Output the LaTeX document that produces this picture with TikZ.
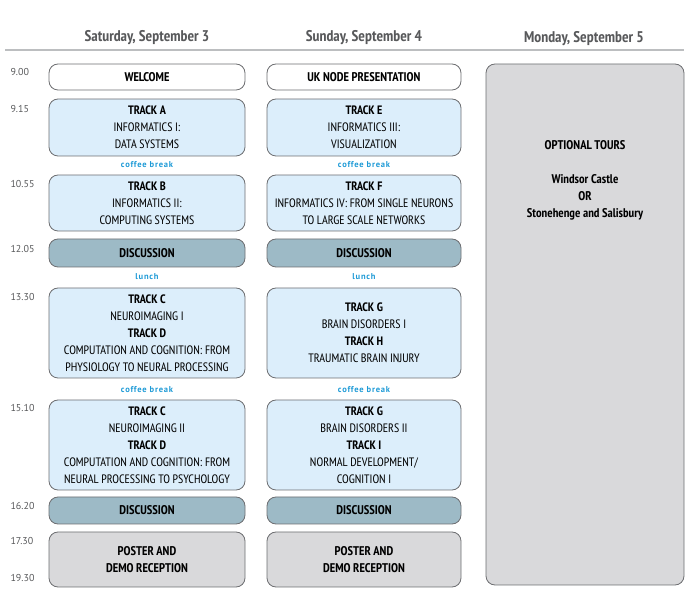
\documentclass[tikz,border=0pt]{standalone}
\usepackage{fontspec}
\setmainfont{PT Sans Narrow}
\newfontfamily\hourfont{PT Sans}
\newfontfamily\pausefont[LetterSpace=9]{PT Sans}
\usetikzlibrary{positioning}

\definecolor{frame}{HTML}{6D6E71}
\definecolor{sessionblue}{HTML}{DCEEFB}
\definecolor{discteal}{HTML}{9DBAC6}
\definecolor{tourgrey}{HTML}{D9D9DB}
\definecolor{breakblue}{HTML}{1E9AD6}
\definecolor{hourgrey}{HTML}{58595B}
\definecolor{rulegrey}{HTML}{BCBEC0}

\begin{document}
\begin{tikzpicture}[x=1pt, y=-1pt,
slot/.style={rectangle, rounded corners=9pt, draw=frame, line width=0.8pt, align=center,
  inner sep=0pt, font=\fontsize{12.2}{17}\selectfont},
slot-welcome/.style={slot, fill=white, font=\fontsize{12.6}{17}\selectfont\bfseries},
slot-track/.style={slot, fill=sessionblue},
slot-disc/.style={slot, fill=discteal, font=\fontsize{12.6}{17}\selectfont\bfseries},
slot-poster/.style={slot, fill=tourgrey, font=\fontsize{12.6}{17}\selectfont\bfseries},
pause/.style={font=\pausefont\fontsize{8.5}{10}\selectfont\bfseries, text=breakblue},
hour/.style={anchor=west, font=\hourfont\fontsize{10}{12}\selectfont, text=hourgrey},
day/.style={font=\fontsize{15.5}{17}\selectfont\bfseries, text=hourgrey}
]
\useasboundingbox (0,0) rectangle (689,593);

% day headers
\node[day] (sat) at (147,38) {Saturday, September 3};
\node[day] (sun) at (364,38) {Sunday, September 4};
\node[day] (mon) at (584,39) {Monday, September 5};
\coordinate (rule-l) at (5,50);
\coordinate (rule-r) at (684,50);
\draw[rulegrey, line width=1.2pt] (rule-l) -- (rule-r);

% hours
\node[hour] (h900) at (7,72) {9.00};
\node[hour] (h915) at (7,109) {9.15};
\node[hour] (h1055) at (7,184) {10.55};
\node[hour] (h1205) at (7,249) {12.05};
\node[hour] (h1330) at (7,297) {13.30};
\node[hour] (h1510) at (7,408) {15.10};
\node[hour] (h1620) at (7,506) {16.20};
\node[hour] (h1730) at (7,541) {17.30};
\node[hour] (h1930) at (7,578) {19.30};

% Saturday
\node[slot-welcome, minimum width=196pt, minimum height=26pt] (welcome) at (147,77) {WELCOME};
\node[slot-track, minimum width=196pt, minimum height=57pt] (track-a) at (147,127.5)
  {\textbf{TRACK A}\\INFORMATICS I:\\DATA SYSTEMS};
\node[pause] (sat-coffee1) at (147,165) {coffee break};
\node[slot-track, minimum width=196pt, minimum height=56pt] (track-b) at (147,203)
  {\textbf{TRACK B}\\INFORMATICS II:\\COMPUTING SYSTEMS};
\node[slot-disc, minimum width=196pt, minimum height=28pt] (sat-disc1) at (147,253) {DISCUSSION};
\node[pause] (sat-lunch) at (147,277) {lunch};
\node[slot-track, minimum width=196pt, minimum height=90pt] (track-cd1) at (147,333)
  {\textbf{TRACK C}\\NEUROIMAGING I\\\textbf{TRACK D}\\COMPUTATION AND COGNITION: FROM\\PHYSIOLOGY TO NEURAL PROCESSING};
\node[pause] (sat-coffee2) at (147,390) {coffee break};
\node[slot-track, minimum width=196pt, minimum height=90pt] (track-cd2) at (147,445)
  {\textbf{TRACK C}\\NEUROIMAGING II\\\textbf{TRACK D}\\COMPUTATION AND COGNITION: FROM\\NEURAL PROCESSING TO PSYCHOLOGY};
\node[slot-disc, minimum width=196pt, minimum height=27pt] (sat-disc2) at (147,510.5) {DISCUSSION};
\node[slot-poster, minimum width=196pt, minimum height=55pt] (sat-poster) at (147,559.5)
  {POSTER AND\\DEMO RECEPTION};

% Sunday
\node[slot-welcome, minimum width=194pt, minimum height=26pt] (uk-node) at (364,77) {UK NODE PRESENTATION};
\node[slot-track, minimum width=194pt, minimum height=57pt] (track-e) at (364,127.5)
  {\textbf{TRACK E}\\INFORMATICS III:\\VISUALIZATION};
\node[pause] (sun-coffee1) at (364,165) {coffee break};
\node[slot-track, minimum width=194pt, minimum height=56pt] (track-f) at (364,203)
  {\textbf{TRACK F}\\INFORMATICS IV: FROM SINGLE NEURONS\\TO LARGE SCALE NETWORKS};
\node[slot-disc, minimum width=194pt, minimum height=28pt] (sun-disc1) at (364,253) {DISCUSSION};
\node[pause] (sun-lunch) at (364,277) {lunch};
\node[slot-track, minimum width=194pt, minimum height=90pt] (track-gh) at (364,333)
  {\textbf{TRACK G}\\BRAIN DISORDERS I\\\textbf{TRACK H}\\TRAUMATIC BRAIN INJURY};
\node[pause] (sun-coffee2) at (364,390) {coffee break};
\node[slot-track, minimum width=194pt, minimum height=90pt] (track-gi) at (364,445)
  {\textbf{TRACK G}\\BRAIN DISORDERS II\\\textbf{TRACK I}\\NORMAL DEVELOPMENT/\\COGNITION I};
\node[slot-disc, minimum width=194pt, minimum height=27pt] (sun-disc2) at (364,510.5) {DISCUSSION};
\node[slot-poster, minimum width=194pt, minimum height=55pt] (sun-poster) at (364,559.5)
  {POSTER AND\\DEMO RECEPTION};

% Monday
\node[slot-poster, minimum width=198pt, minimum height=521pt] (tours) at (585,324.5) {};
\node[align=center, font=\fontsize{12.6}{17}\selectfont\bfseries] (tours-text) at (585,180)
  {OPTIONAL TOURS\\[17pt]Windsor Castle\\OR\\Stonehenge and Salisbury};
\end{tikzpicture}
\end{document}
